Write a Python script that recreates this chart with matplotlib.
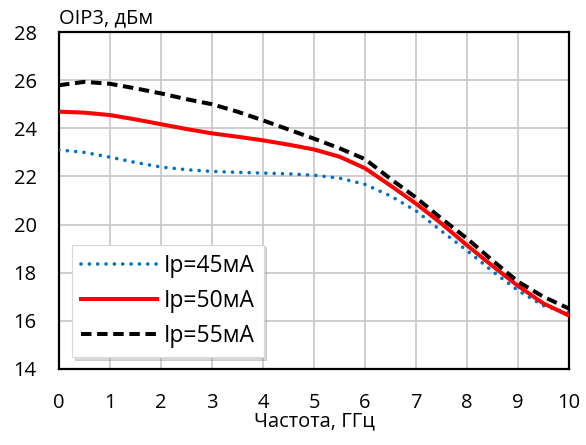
import matplotlib
matplotlib.use("Agg")
import matplotlib.pyplot as plt

freq = [0, 0.5, 1, 1.5, 2, 2.5, 3, 3.5, 4, 4.5, 5, 5.5, 6, 6.5, 7, 7.5, 8, 8.5, 9, 9.5, 10]
ip45 = [23.10, 23.00, 22.80, 22.58, 22.39, 22.28, 22.21, 22.17, 22.14, 22.11, 22.05, 21.93, 21.67, 21.19, 20.57, 19.73, 18.92, 18.06, 17.26, 16.63, 16.32]
ip50 = [24.69, 24.65, 24.55, 24.37, 24.17, 23.97, 23.79, 23.65, 23.50, 23.32, 23.12, 22.82, 22.34, 21.62, 20.87, 20.04, 19.14, 18.28, 17.45, 16.72, 16.22]
ip55 = [25.79, 25.93, 25.85, 25.66, 25.45, 25.21, 25.00, 24.69, 24.33, 23.95, 23.57, 23.17, 22.72, 21.90, 21.12, 20.25, 19.42, 18.51, 17.63, 17.00, 16.51]
labels = ["Ip=45мА", "Ip=50мА", "Ip=55мА"]
xticks = list(range(0, 11))
yticks = list(range(14, 29, 2))

plt.rcParams['font.family'] = ['Open Sans', 'DejaVu Sans']
FS = 14.5
LFS = 16.5

fig = plt.figure(figsize=(5.86, 4.45), dpi=100)
ax = fig.add_axes([0.1007, 0.1708, 0.8703, 0.7572])

ax.plot(freq, ip45, color='#0070C0', lw=2.6, linestyle=(0, (0.01, 2.3)),
        dash_capstyle='round', label=labels[0], zorder=3)
ax.plot(freq, ip50, color='#FF0000', lw=2.9, linestyle='-', label=labels[1], zorder=3)
ax.plot(freq, ip55, color='black', lw=2.9, linestyle=(0, (2.6, 1.4)), label=labels[2], zorder=4)

ax.set_xlim(0, 10)
ax.set_ylim(14, 28)
ax.set_xticks(xticks)
ax.set_yticks(yticks)
ax.tick_params(axis='both', length=0, labelsize=FS)
ax.tick_params(axis='x', pad=17)
ax.tick_params(axis='y', pad=16)
ax.grid(True, color='#C6C6C6', lw=1.2)
ax.set_axisbelow(True)
for s in ax.spines.values():
    s.set_color('black')
    s.set_linewidth(1.6)

ax.set_xlabel("Частота, ГГц", fontsize=FS, labelpad=-1)
ax.text(0.0, 1.012, "OIP3, дБм", transform=ax.transAxes, ha='left', va='bottom', fontsize=FS)

leg = ax.legend(loc='lower left', bbox_to_anchor=(0.025, 0.036), borderaxespad=0,
                fontsize=LFS, handlelength=3.3, frameon=True, fancybox=False,
                edgecolor='#D8D8D8', framealpha=1.0, borderpad=0.4, labelspacing=0.48,
                handletextpad=0.3, shadow={'color': '#909090', 'alpha': 0.35})
leg.get_frame().set_linewidth(0.8)

fig.savefig("out.png", dpi=100)
